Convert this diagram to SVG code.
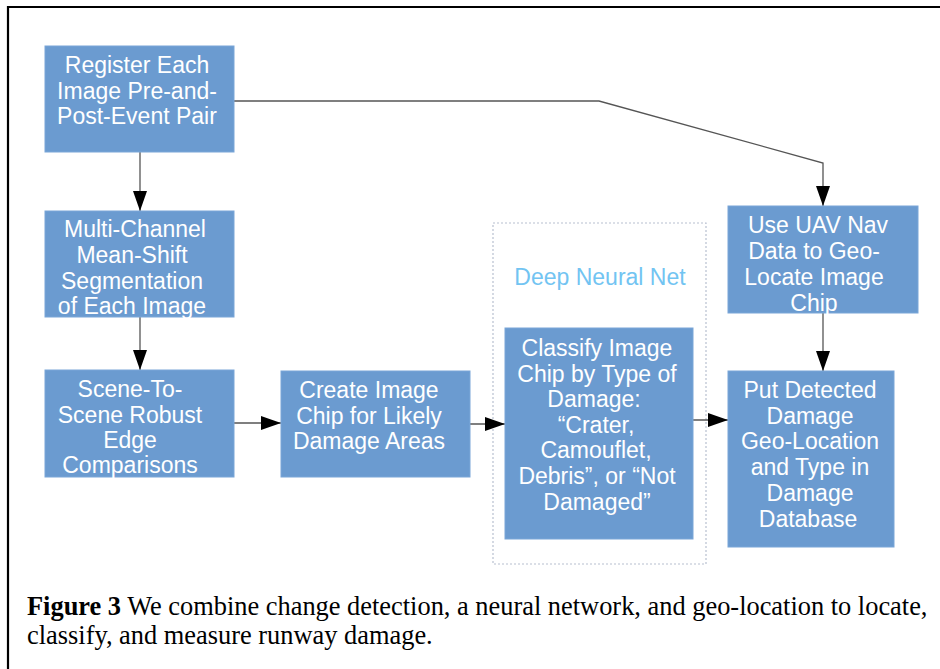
<svg xmlns="http://www.w3.org/2000/svg" width="940" height="669" viewBox="0 0 940 669">
<style>
.box{fill:#6b9bd0;stroke:#7aa6d8;stroke-width:1}
.t{font-family:"Liberation Sans",Arial,sans-serif;font-size:23px;fill:#ffffff;text-anchor:middle}
.c{fill:none;stroke:#555555;stroke-width:1.3}
.cap{font-family:"Liberation Serif","Times New Roman",serif;font-size:26.4px;fill:#000000}
</style>
<defs>
<marker id="ah" markerWidth="20" markerHeight="14" refX="20" refY="7" viewBox="0 0 20 14" orient="auto" markerUnits="userSpaceOnUse">
<path d="M0,0 L20,7 L0,14 Z" fill="#000000"/>
</marker>
</defs>
<rect x="0" y="0" width="940" height="669" fill="#ffffff"/>
<path d="M8,669 L8,7 L940,7" fill="none" stroke="#000000" stroke-width="2.2"/>

<g id="container">
<rect x="493" y="223" width="213" height="341" fill="none" stroke="#b8c0d0" stroke-width="1.2" stroke-dasharray="2,2"/>
<text x="600" y="285" class="t" style="fill:#72c4f2">Deep Neural Net</text>
</g>

<g id="connectors">
<path class="c" d="M140,152 L140,211" marker-end="url(#ah)"/>
<path class="c" d="M140,317 L140,370" marker-end="url(#ah)"/>
<path class="c" d="M234,423 L281,423" marker-end="url(#ah)"/>
<path class="c" d="M470,424 L505,424" marker-end="url(#ah)"/>
<path class="c" d="M693,420 L728,420" marker-end="url(#ah)"/>
<path class="c" d="M823,313 L823,371" marker-end="url(#ah)"/>
<path class="c" d="M234,101 L599,101 L823,163 L823,206" marker-end="url(#ah)"/>
</g>

<g id="n1">
<rect class="box" x="45" y="46" width="189" height="106"/>
<text class="t"><tspan x="137" y="73">Register Each</tspan><tspan x="137" y="99">Image Pre-and-</tspan><tspan x="137" y="124">Post-Event Pair</tspan></text>
</g>
<g id="n2">
<rect class="box" x="45" y="211" width="189" height="106"/>
<text class="t"><tspan x="135" y="237">Multi-Channel</tspan><tspan x="132" y="263">Mean-Shift</tspan><tspan x="132" y="289">Segmentation</tspan><tspan x="132" y="314">of Each Image</tspan></text>
</g>
<g id="n3">
<rect class="box" x="45" y="370" width="189" height="107"/>
<text class="t"><tspan x="130" y="397">Scene-To-</tspan><tspan x="130" y="423">Scene Robust</tspan><tspan x="130" y="448">Edge</tspan><tspan x="130" y="473">Comparisons</tspan></text>
</g>
<g id="n4">
<rect class="box" x="281" y="371" width="189" height="106"/>
<text class="t"><tspan x="369" y="398">Create Image</tspan><tspan x="369" y="424">Chip for Likely</tspan><tspan x="369" y="449">Damage Areas</tspan></text>
</g>
<g id="n5">
<rect class="box" x="505" y="328" width="188" height="211"/>
<text class="t"><tspan x="597" y="356">Classify Image</tspan><tspan x="597" y="382">Chip by Type of</tspan><tspan x="594" y="407">Damage:</tspan><tspan x="596" y="433">“Crater,</tspan><tspan x="596" y="458">Camouflet,</tspan><tspan x="597" y="484">Debris”, or “Not</tspan><tspan x="597" y="510">Damaged”</tspan></text>
</g>
<g id="n6">
<rect class="box" x="728" y="206" width="190" height="107"/>
<text class="t"><tspan x="818" y="233">Use UAV Nav</tspan><tspan x="814" y="259">Data to Geo-</tspan><tspan x="814" y="285">Locate Image</tspan><tspan x="814" y="311">Chip</tspan></text>
</g>
<g id="n7">
<rect class="box" x="728" y="371" width="166" height="176"/>
<text class="t"><tspan x="810" y="398">Put Detected</tspan><tspan x="810" y="424">Damage</tspan><tspan x="810" y="449">Geo-Location</tspan><tspan x="810" y="475">and Type in</tspan><tspan x="810" y="501">Damage</tspan><tspan x="808" y="527">Database</tspan></text>
</g>

<g id="caption">
<text class="cap" x="27" y="615"><tspan font-weight="bold">Figure 3</tspan> We combine change detection, a neural network, and geo-location to locate,</text>
<text class="cap" x="27" y="644">classify, and measure runway damage.</text>
</g>
</svg>
